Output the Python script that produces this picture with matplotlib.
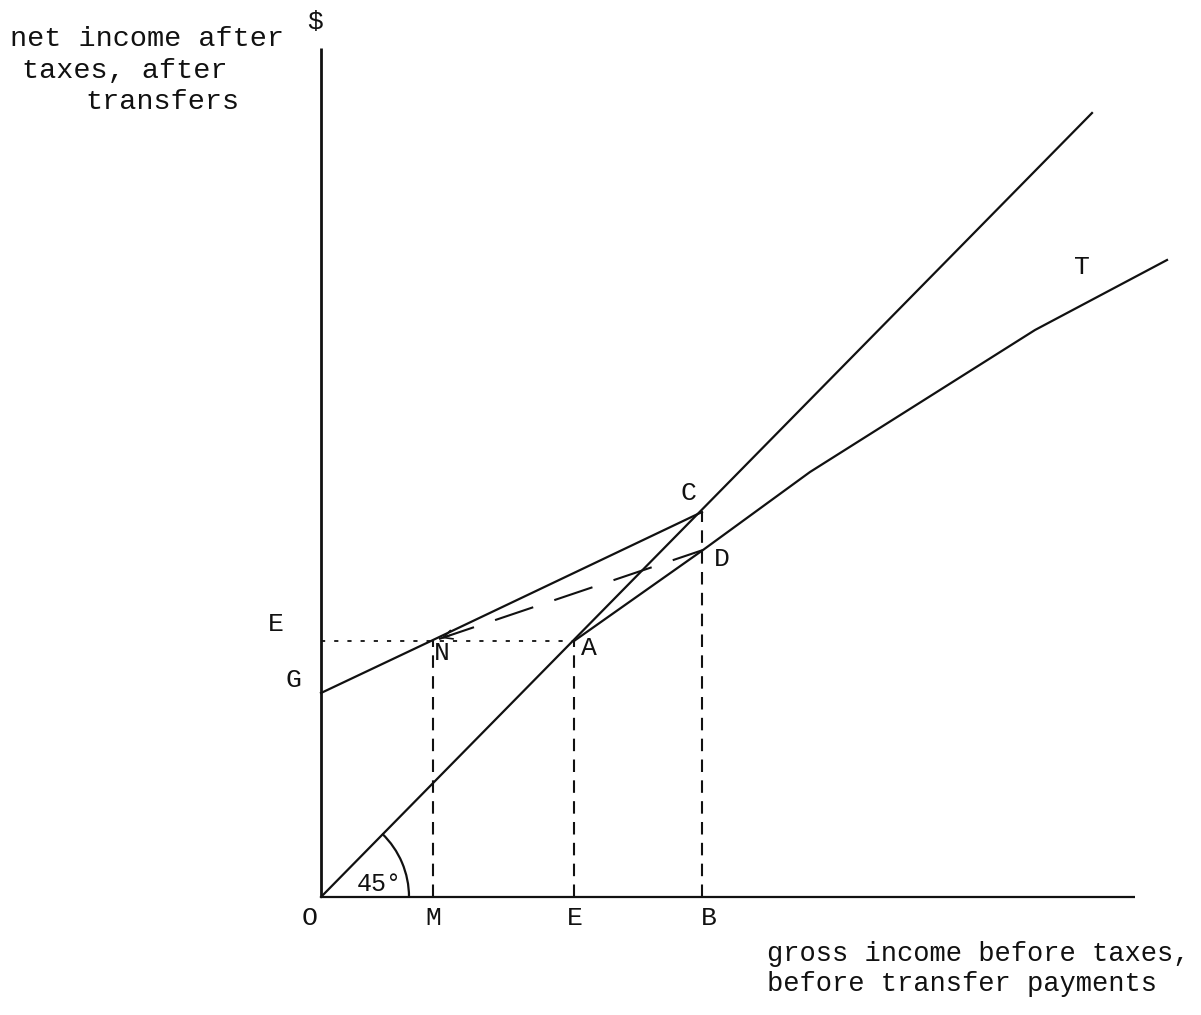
import matplotlib
matplotlib.use('Agg')
import matplotlib.pyplot as plt
from matplotlib.patches import Arc

plt.rcParams['lines.scale_dashes'] = False
FONT = ['Liberation Mono', 'DejaVu Sans Mono']
INK = '#111111'

# ---- data (gross income x, net income y; arbitrary units) ----
axis_x_end = 814
axis_y_end = 849

line45_x = [0, 771]          # 45-degree line (net = gross)
line45_y = [0, 784]

transfer_x = [0, 112, 381]   # G -> N -> C
transfer_y = [204, 257, 385]

tax_x = [253, 382, 489, 714, 846]   # A -> D -> ... -> T
tax_y = [256, 347, 425, 567, 637]

shift_x = [382, 118]         # dashed shift D -> N
shift_y = [347, 258]

break_even_level = 256       # E on vertical axis
drop_x = [112, 253, 381]     # M, E, B
drop_top = [257, 256, 385]

point_labels = ['N', 'A', 'C', 'D', 'T']
point_label_x = [121, 268, 367, 401, 761]
point_label_y = [244, 249, 404, 338, 630]

axis_labels = ['O', 'M', 'E', 'B']
axis_label_x = [-11, 112, 254, 388]

ytitle = ['net income after', 'taxes, after', 'transfers']
xtitle = ['gross income before taxes,', 'before transfer payments']

fig = plt.figure(figsize=(12.01, 10.15), dpi=100)
ax = fig.add_axes([0, 0, 1, 1])
ax.set_xlim(-321, 880)
ax.set_ylim(-118, 897)
ax.axis('off')

# axes
ax.plot([0, 0], [0, axis_y_end], color=INK, lw=2.0, solid_capstyle='butt')
ax.plot([0, axis_x_end], [0, 0], color=INK, lw=1.6, solid_capstyle='butt')

# curves
ax.plot(line45_x, line45_y, color=INK, lw=1.6)
ax.plot(transfer_x, transfer_y, color=INK, lw=1.6)
ax.plot(tax_x, tax_y, color=INK, lw=1.6)

# dashed shift D -> N with arrowhead
ax.plot(shift_x, shift_y, color=INK, lw=1.5, linestyle=(6, (29, 16)))
dx = shift_x[0] - shift_x[1]
dy = shift_y[0] - shift_y[1]
n = (dx ** 2 + dy ** 2) ** 0.5
ax.annotate('', xy=(shift_x[1], shift_y[1]),
            xytext=(shift_x[1] + 14 * dx / n, shift_y[1] + 14 * dy / n),
            arrowprops=dict(arrowstyle='->', color=INK, lw=1.2, mutation_scale=16))

# dotted horizontal from vertical axis to A
ax.plot([0, drop_x[1]], [break_even_level, break_even_level], color=INK, lw=1.3,
        linestyle=(0, (3, 6.5)))

# vertical dashed drop lines
for xv, yt in zip(drop_x, drop_top):
    ax.plot([xv, xv], [0, yt], color=INK, lw=1.5, linestyle=(0, (9, 6)))

# 45 degree arc
ax.add_patch(Arc((0, 0), 176, 176, theta1=0, theta2=46, color=INK, lw=1.6))
ax.text(58, 13, '45°', fontsize=18, family=FONT, color=INK, ha='center', va='center')

# point labels
for lab, xx, yy in zip(point_labels, point_label_x, point_label_y):
    ax.text(xx, yy, lab, fontsize=19, family=FONT, color=INK, ha='center', va='center')

for lab, xx in zip(axis_labels, axis_label_x):
    ax.text(xx, -21, lab, fontsize=19, family=FONT, color=INK, ha='center', va='center')

ax.text(-45, 273, 'E', fontsize=19, family=FONT, color=INK, ha='center', va='center')
ax.text(-28, 217, 'G', fontsize=19, family=FONT, color=INK, ha='center', va='center')
ax.text(-6, 875, '$', fontsize=19, family=FONT, color=INK, ha='center', va='center')

# axis titles
ytitle_x = [-311, -299, -236]
ytitle_y = [851, 819, 788]
for s, xx, yy in zip(ytitle, ytitle_x, ytitle_y):
    ax.text(xx, yy, s, fontsize=20.5, family=FONT, color=INK, ha='left', va='baseline')

xtitle_y = [-64, -94]
for s, yy in zip(xtitle, xtitle_y):
    ax.text(446, yy, s, fontsize=19.5, family=FONT, color=INK, ha='left', va='baseline')

fig.savefig('out.png', dpi=100, facecolor='white')
